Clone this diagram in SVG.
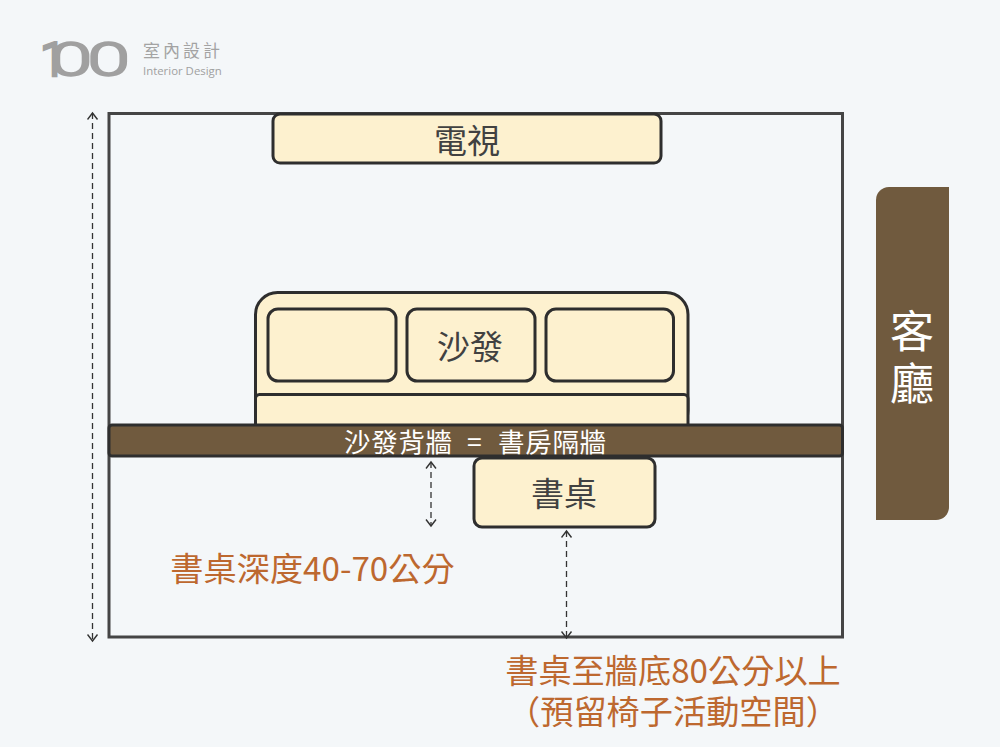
<svg xmlns="http://www.w3.org/2000/svg" width="1000" height="747" viewBox="0 0 1000 747">
<style>
text{font-family:"Noto Sans CJK TC","Noto Sans",sans-serif;text-anchor:middle}
.box{fill:#fdf1cf;stroke:#2e2e2e;stroke-width:3}
.dark{fill:#414141;font-size:33px}
.note{fill:#bd682f;font-size:33.200px}
.white{fill:#fff}
.logo0{font-family:'Roboto',sans-serif;text-anchor:start;font-size:44px;font-weight:100;fill:#a0a0a0;stroke:#a0a0a0}
.dim{fill:none;stroke:#333;stroke-width:1.3;stroke-dasharray:6 4;marker-start:url(#head);marker-end:url(#head)}
</style>
<defs>
<marker id="head" markerUnits="userSpaceOnUse" markerWidth="12" markerHeight="12" refX="10" refY="6" orient="auto-start-reverse" viewBox="0 0 12 12"><path d="M3.500 1L10 6L3.500 11" fill="none" stroke="#333" stroke-width="1.400"/></marker>
</defs>
<rect width="1000" height="747" fill="#f4f7f9"/>
<g id="logo">
<text class="logo0" transform="translate(41 75)" style="stroke-width:4.500px">1</text>
<text class="logo0" transform="translate(51 75) scale(1.660 1)" x="0 22.800" y="0" style="stroke-width:3.400px">00</text>
<text x="143" y="57" style="text-anchor:start;font-size:17px;letter-spacing:3px;fill:#a3a3a3">室內設計</text>
<text x="143" y="74.500" style="font-family:'Open Sans',sans-serif;text-anchor:start;font-size:11.400px;fill:#a0a0a0">Interior Design</text>
</g>
<g id="room"><rect x="109" y="113.500" width="733.500" height="523.500" fill="none" stroke="#454545" stroke-width="3"/></g>
<g id="tv"><rect class="box" x="273" y="114" width="388" height="49" rx="7"/><text class="dark" x="467" y="153">電視</text></g>
<g id="sofa">
<rect class="box" x="255.500" y="292.500" width="432.500" height="140" rx="22"/>
<rect class="box" x="255.500" y="394.500" width="432.500" height="40" rx="4"/>
<rect class="box" x="268" y="309" width="128" height="72" rx="10"/>
<rect class="box" x="407" y="309" width="128" height="72" rx="10"/>
<rect class="box" x="546" y="309" width="127.500" height="72" rx="10"/>
<text class="dark" x="470" y="359">沙發</text>
</g>
<g id="wall"><rect x="109" y="425" width="733.500" height="31" rx="3" fill="#705a3e" stroke="#2e2e2e" stroke-width="3"/><text class="white" y="451.500" style="font-size:26.500px;letter-spacing:.7px;text-anchor:start"><tspan x="344">沙發背牆</tspan><tspan x="467">=</tspan><tspan x="498">書房隔牆</tspan></text></g>
<g id="desk"><rect class="box" x="474" y="458" width="181" height="69" rx="8"/><text class="dark" x="564" y="506">書桌</text></g>
<g id="living"><path d="M889 187H949V507a13 13 0 0 1-13 13H876V200a13 13 0 0 1 13-13Z" fill="#705a3e"/><text class="white" style="font-size:44px"><tspan x="912" y="348">客</tspan><tspan x="912" y="400">廳</tspan></text></g>
<g id="connectors">
<path class="dim" d="M92.500 113V641"/>
<path class="dim" d="M431 462V526"/>
<path class="dim" d="M566.500 531V638"/>
</g>
<g id="labels">
<text class="note" x="312.500" y="581">書桌深度40-70公分</text>
<text class="note"><tspan x="673" y="683">書桌至牆底80公分以上</tspan><tspan x="673" y="724">（預留椅子活動空間）</tspan></text>
</g>
</svg>
